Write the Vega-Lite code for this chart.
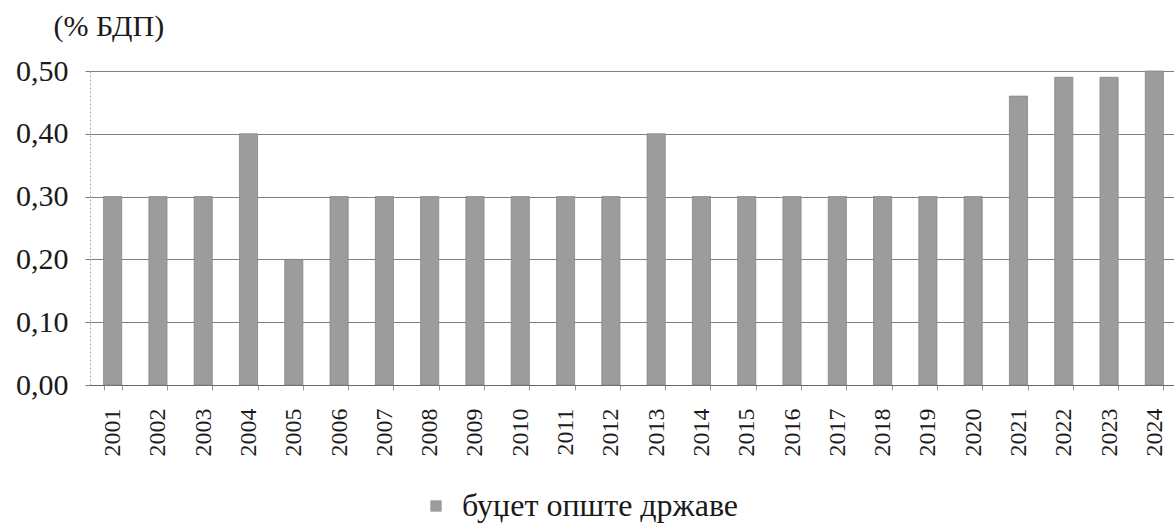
{
  "$schema": "https://vega.github.io/schema/vega-lite/v6.json",
  "width": 1087,
  "height": 314,
  "autosize": {"type": "none"},
  "padding": {"left": 90, "top": 71, "right": 0, "bottom": 139},
  "background": "white",
  "data": {
    "values": [
      {"year": "2001", "value": 0.30, "series": "буџет опште државе"},
      {"year": "2002", "value": 0.30, "series": "буџет опште државе"},
      {"year": "2003", "value": 0.30, "series": "буџет опште државе"},
      {"year": "2004", "value": 0.40, "series": "буџет опште државе"},
      {"year": "2005", "value": 0.20, "series": "буџет опште државе"},
      {"year": "2006", "value": 0.30, "series": "буџет опште државе"},
      {"year": "2007", "value": 0.30, "series": "буџет опште државе"},
      {"year": "2008", "value": 0.30, "series": "буџет опште државе"},
      {"year": "2009", "value": 0.30, "series": "буџет опште државе"},
      {"year": "2010", "value": 0.30, "series": "буџет опште државе"},
      {"year": "2011", "value": 0.30, "series": "буџет опште државе"},
      {"year": "2012", "value": 0.30, "series": "буџет опште државе"},
      {"year": "2013", "value": 0.40, "series": "буџет опште државе"},
      {"year": "2014", "value": 0.30, "series": "буџет опште државе"},
      {"year": "2015", "value": 0.30, "series": "буџет опште државе"},
      {"year": "2016", "value": 0.30, "series": "буџет опште државе"},
      {"year": "2017", "value": 0.30, "series": "буџет опште државе"},
      {"year": "2018", "value": 0.30, "series": "буџет опште државе"},
      {"year": "2019", "value": 0.30, "series": "буџет опште државе"},
      {"year": "2020", "value": 0.30, "series": "буџет опште државе"},
      {"year": "2021", "value": 0.46, "series": "буџет опште државе"},
      {"year": "2022", "value": 0.49, "series": "буџет опште државе"},
      {"year": "2023", "value": 0.49, "series": "буџет опште државе"},
      {"year": "2024", "value": 0.50, "series": "буџет опште државе"}
    ]
  },
  "mark": {"type": "bar", "stroke": "#858585", "strokeWidth": 0.8},
  "encoding": {
    "x": {
      "field": "year",
      "type": "nominal",
      "sort": null,
      "scale": {"paddingInner": 0.6, "paddingOuter": 0.3},
      "axis": {
        "title": null,
        "labelAngle": -90,
        "labelFont": "Liberation Serif",
        "labelFontSize": 24,
        "labelColor": "#1a1a1a",
        "labelPadding": 18,
        "tickBand": "extent",
        "tickSize": 5,
        "tickColor": "#999",
        "domainColor": "#666",
        "grid": false
      }
    },
    "y": {
      "field": "value",
      "type": "quantitative",
      "scale": {"domain": [0, 0.5], "nice": false},
      "axis": {
        "values": [0, 0.1, 0.2, 0.3, 0.4, 0.5],
        "labelExpr": "replace(format(datum.value, '.2f'), '.', ',')",
        "labelFont": "Liberation Serif",
        "labelFontSize": 30,
        "labelColor": "#1a1a1a",
        "labelPadding": 17,
        "tickSize": 5,
        "tickColor": "#777",
        "domainColor": "#aaa",
        "domainDash": [2, 2],
        "gridColor": "#808080",
        "gridWidth": 1,
        "title": "(% БДП)",
        "titleFont": "Liberation Serif",
        "titleFontSize": 30,
        "titleFontWeight": "normal",
        "titleColor": "#1a1a1a",
        "titleAngle": 0,
        "titleAlign": "left",
        "titleBaseline": "alphabetic",
        "titleX": -37,
        "titleY": -36
      }
    },
    "color": {
      "field": "series",
      "type": "nominal",
      "scale": {"range": ["#9c9c9c"]},
      "legend": {
        "title": null,
        "orient": "none",
        "legendX": 330,
        "legendY": 419,
        "symbolType": "square",
        "symbolSize": 130,
        "symbolStrokeWidth": 0,
        "labelOffset": 10,
        "labelFont": "Liberation Serif",
        "labelFontSize": 32,
        "labelColor": "#1a1a1a",
        "labelLimit": 600
      }
    }
  },
  "config": {"view": {"stroke": null}}
}
